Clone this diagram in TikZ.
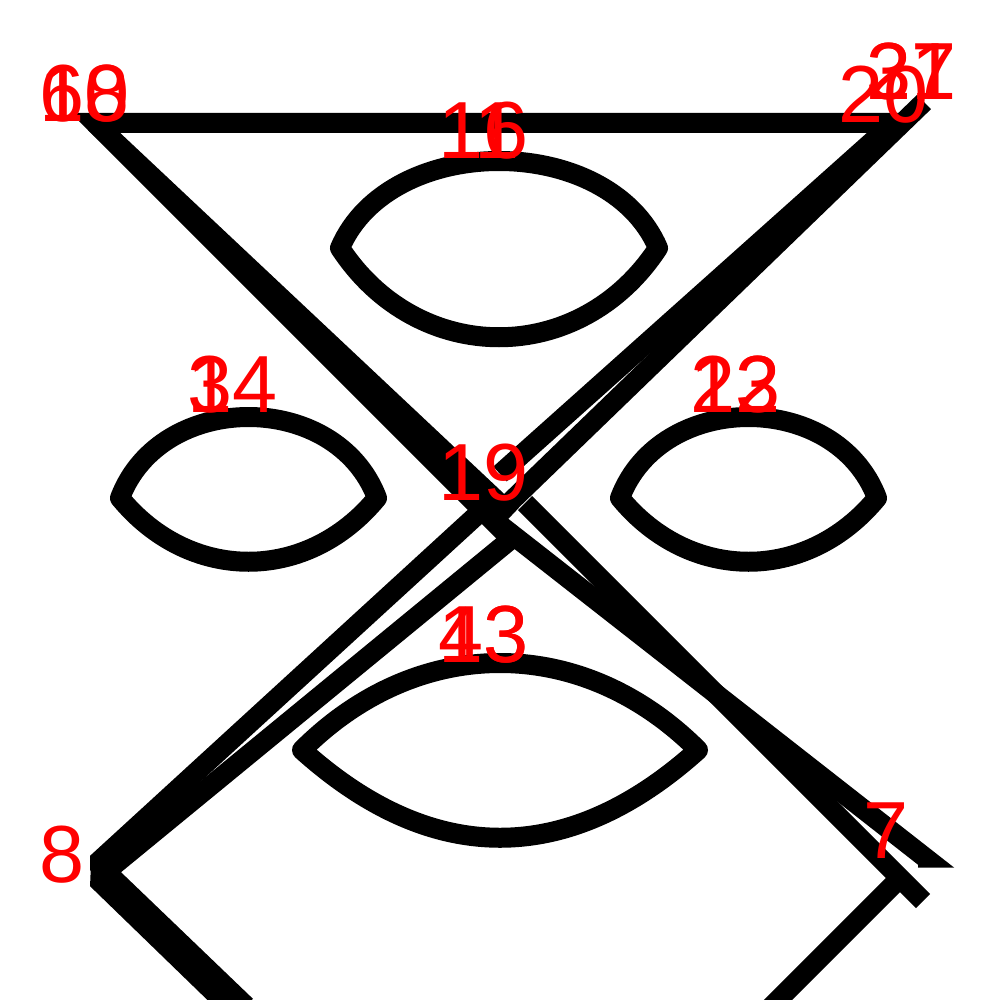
\documentclass[tikz,border=0pt]{standalone}
\usepackage{fontspec}
\setmainfont{Liberation Sans}
\begin{document}
\begin{tikzpicture}[x=1pt,y=-1pt,
  stroke/.style={draw=black, line width=20pt},
  leaf/.style={draw=black, line width=20pt, line join=round},
  lbl/.style={text=red, font=\fontsize{81}{81}\selectfont, inner sep=0pt, anchor=base west}]
\clip (0,0) rectangle (1000,1000);
\fill[white] (0,0) rectangle (1000,1000);
% corner and centre points
\coordinate (TL) at (95,123);
\coordinate (TR) at (893,123);
\coordinate (TRs) at (924,102);
\coordinate (BLa) at (97,863);
\coordinate (BLb) at (97,879);
\coordinate (V) at (925,857.5);
\coordinate (Vh) at (918,857.5);
\coordinate (BRs) at (923,901);
\coordinate (BRd) at (900,878);
\coordinate (C1) at (505,533);
\coordinate (C2) at (512,515);
\coordinate (C3) at (500,474);
\coordinate (C4) at (505,507);
\coordinate (C5) at (478,514);
\coordinate (C6) at (510,540);
\coordinate (C7) at (525,503);
\coordinate (C8) at (500,525);
\coordinate (Ea) at (246,1006);
\coordinate (Eb) at (228,1006);
\coordinate (Ed) at (770,1008);
% the crossing lines
\draw[stroke] (C1) -- (TL) -- (TR) -- (C3);
\draw[stroke] (TL) -- (C2);
\draw[stroke] (TRs) -- (C4);
\draw[stroke, line join=bevel] (C5) -- (BLa) -- (Ea);
\draw[stroke, line join=bevel] (C6) -- (BLb) -- (Eb);
\draw[stroke] (C7) -- (BRs);
\draw[stroke] (C8) -- (V) -- (Vh);
\draw[stroke] (BRd) -- (Ed);
% leaves
\draw[leaf] (340,248) .. controls (390,132) and (608,132) .. (658,248)
  .. controls (580,367) and (418,367) .. (340,248) -- cycle;
\draw[leaf] (120,498) .. controls (161,390) and (336,390) .. (377,498)
  .. controls (307,583) and (190,583) .. (120,498) -- cycle;
\draw[leaf] (620,498) .. controls (661,390) and (836,390) .. (877,498)
  .. controls (807,583) and (690,583) .. (620,498) -- cycle;
\draw[leaf] (302,750) .. controls (418,634) and (582,634) .. (698,750)
  .. controls (568,867) and (432,867) .. (302,750) -- cycle;
% labels
\node[lbl] (l6) at (39,122) {6};
\node[lbl] (l10) at (39,122) {10};
\node[lbl] (l18) at (39,122) {18};
\node[lbl] (l16) at (438,159) {16};
\node[lbl] (l1) at (474,159) {1};
\node[lbl] (l34) at (187,412) {34};
\node[lbl] (l1b) at (187,412) {1};
\node[lbl] (l12) at (690,412) {12};
\node[lbl] (l23) at (690,412) {23};
\node[lbl] (l19) at (438,500) {19};
\node[lbl] (l43) at (438,662) {43};
\node[lbl] (l13) at (438,662) {13};
\node[lbl] (l20) at (838,123) {20};
\node[lbl] (l37) at (866,100) {37};
\node[lbl] (l21) at (866,100) {21};
\node[lbl] (l8) at (39,882) {8};
\node[lbl] (l7) at (863,858) {7};
\end{tikzpicture}
\end{document}
